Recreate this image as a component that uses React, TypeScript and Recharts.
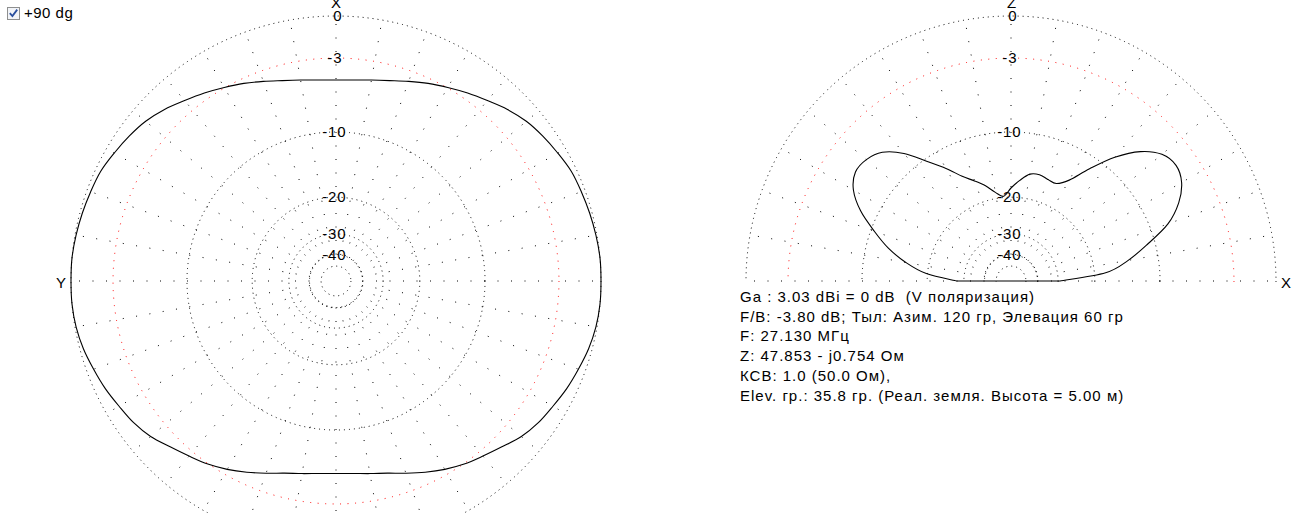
import React from 'react';
import { RadarChart, Radar, PolarGrid, PolarAngleAxis, PolarRadiusAxis } from 'recharts';

const FONT = '"Liberation Sans", Arial, sans-serif';
const OUTER = 265;
const CY = 281;

// Azimuth pattern (degrees clockwise from X / top), dB
const AZ_ANGLES = [
  0, 5, 10, 15, 20, 25, 30, 35, 40, 45, 50, 55, 60, 65, 70, 75, 80, 85,
  90, 95, 100, 105, 110, 115, 120, 125, 130, 135, 140, 145, 150, 155, 160, 165, 170, 175,
  180, 185, 190, 195, 200, 205, 210, 215, 220, 225, 230, 235, 240, 245, 250, 255, 260, 265,
  270, 275, 280, 285, 290, 295, 300, 305, 310, 315, 320, 325, 330, 335, 340, 345, 350, 355,
];
const AZ_DB = [
  -4.8, -4.73, -4.54, -4.25, -3.84, -3.39, -2.96, -2.5, -2.05, -1.54, -1.12, -0.84, -0.6, -0.36, -0.26, -0.16, -0.07, 0,
  0, 0, -0.07, -0.23, -0.47, -0.7, -0.98, -1.22, -1.58, -2.12, -2.57, -2.96, -3.43, -3.96, -4.5, -4.98, -5.28, -5.49,
  -5.55, -5.49, -5.28, -4.98, -4.5, -3.96, -3.43, -2.96, -2.57, -2.12, -1.58, -1.22, -0.98, -0.7, -0.47, -0.23, -0.07, 0,
  0, 0, -0.07, -0.16, -0.26, -0.36, -0.6, -0.84, -1.12, -1.54, -2.05, -2.5, -2.96, -3.39, -3.84, -4.25, -4.54, -4.73,
];

// Elevation pattern (degrees from +X horizon, counter-clockwise), dB
const EL_ANGLES = [
  0, 5, 10, 15, 20, 25, 30, 35, 40, 45, 50, 55, 60, 65, 70, 75, 80, 85, 90,
  95, 100, 105, 110, 115, 120, 125, 130, 135, 140, 145, 150, 155, 160, 165, 170, 175, 180,
];
const EL_DB = [
  -29.32, -17.82, -13.91, -10.96, -8.02, -6.24, -5.15, -4.76, -5.15, -6.43, -8.6, -11.46, -14.28, -15.67, -15.59, -15.27, -15.51, -16.76, -18.19,
  -19.75, -18.76, -17.19, -15.84, -14.43, -12.37, -10.36, -8.07, -6.53, -5.89, -5.79, -6.53, -8.13, -10.42, -12.78, -15.79, -19.75, -27.63,
];

const RING_DB_BLACK = [0, -10, -20, -30, -40, -50];
const RING_DB_RED = [-3];
const RING_LABEL_DB = [0, -3, -10, -20, -30, -40];
const SPOKE_START_DB = -40;
const AZ_SPOKES = [0, 10, 20, 30, 40, 50, 60, 70, 80, 90, 100, 110, 120, 130, 140, 150, 160, 170,
  180, 190, 200, 210, 220, 230, 240, 250, 260, 270, 280, 290, 300, 310, 320, 330, 340, 350];
const EL_SPOKES = [0, 10, 20, 30, 40, 50, 60, 70, 80, 90, 100, 110, 120, 130, 140, 150, 160, 170, 180];

const INFO_LINES = [
  'Ga : 3.03 dBi = 0 dB  (V поляризация)',
  'F/B: -3.80 dB; Тыл: Азим. 120 гр, Элевация 60 гр',
  'F: 27.130 МГц',
  'Z: 47.853 - j0.754 Ом',
  'КСВ: 1.0 (50.0 Ом),',
  'Elev. гр.: 35.8 гр. (Реал. земля. Высота = 5.00 м)',
];

const toV = (db: number) => Math.pow(10, db / 40);

const azData = AZ_ANGLES.map((a, i) => ({ angle: a, v: toV(AZ_DB[i]) }));
const elData = EL_ANGLES.map((a, i) => ({ angle: a, v: toV(EL_DB[i]) }));

type P = { x: number; y: number };
function smoothPath(pts: P[], closed: boolean) {
  const n = pts.length;
  const get = (i: number) => (closed ? pts[(i + n) % n] : pts[Math.max(0, Math.min(n - 1, i))]);
  let d = `M${pts[0].x},${pts[0].y}`;
  const segs = closed ? n : n - 1;
  for (let i = 0; i < segs; i++) {
    const p0 = get(i - 1), p1 = get(i), p2 = get(i + 1), p3 = get(i + 2);
    const c1x = p1.x + (p2.x - p0.x) / 6, c1y = p1.y + (p2.y - p0.y) / 6;
    const c2x = p2.x - (p3.x - p1.x) / 6, c2y = p2.y - (p3.y - p1.y) / 6;
    d += ` C${c1x},${c1y} ${c2x},${c2y} ${p2.x},${p2.y}`;
  }
  return d + ' Z';
}

const makeShape = (closed: boolean) => (props: any) => {
  const pts: P[] = (props.points || []).filter((p: any) => Number.isFinite(p.x) && Number.isFinite(p.y));
  if (pts.length < 2) return <g />;
  return <path d={smoothPath(pts, closed)} fill="none" stroke="#000" strokeWidth={1.1} />;
};

const RingTick = (props: any) => {
  const { x, y, payload } = props;
  const db = Math.round(40 * Math.log10(payload.value));
  const digits = String(Math.abs(db));
  const label = db === 0 ? '0' : `-${digits}`;
  const xEnd = x + (digits.length === 1 ? 6.3 : 10.3);
  return (
    <text x={xEnd} y={y + 5} textAnchor="end" fontSize={15} fontFamily={FONT} fill="#000" letterSpacing={0.8}>
      {label}
    </text>
  );
};

type PlotProps = {
  data: any[]; width: number; height: number; cx: number; startAngle: number; endAngle: number;
  domain: [number, number]; spokes: number[]; closed: boolean;
};

// Grid layer: rings + spokes (spokes start at the -40 dB ring)
function GridLayer(props: PlotProps) {
  const { data, width, height, cx, startAngle, endAngle, domain, spokes } = props;
  return (
    <RadarChart width={width} height={height} data={data} cx={cx} cy={CY}
      innerRadius={OUTER * toV(SPOKE_START_DB)} outerRadius={OUTER}
      startAngle={startAngle} endAngle={endAngle} margin={{ top: 0, right: 0, bottom: 0, left: 0 }}>
      <PolarAngleAxis dataKey="angle" type="number" scale="linear" domain={domain}
        tick={false} axisLine={false} tickLine={false} />
      <PolarGrid gridType="circle" radialLines={false} polarAngles={[]}
        polarRadius={RING_DB_BLACK.map((d) => OUTER * toV(d))} stroke="#000" strokeDasharray="1 4" />
      <PolarGrid gridType="circle" radialLines={false} polarAngles={[]}
        polarRadius={RING_DB_RED.map((d) => OUTER * toV(d))} stroke="#ff0000" strokeDasharray="1 6.5" />
      <PolarGrid gridType="circle" radialLines={true} polarAngles={spokes} polarRadius={[]}
        stroke="#000" strokeDasharray="1 12.5" />
    </RadarChart>
  );
}

// Data layer: radius labels + pattern
function DataLayer(props: PlotProps) {
  const { data, width, height, cx, startAngle, endAngle, domain, closed } = props;
  return (
    <RadarChart width={width} height={height} data={data} cx={cx} cy={CY}
      innerRadius={0} outerRadius={OUTER}
      startAngle={startAngle} endAngle={endAngle} margin={{ top: 0, right: 0, bottom: 0, left: 0 }}>
      <PolarAngleAxis dataKey="angle" type="number" scale="linear" domain={domain}
        tick={false} axisLine={false} tickLine={false} />
      <PolarRadiusAxis angle={90} type="number" scale="linear" domain={[0, 1]}
        ticks={RING_LABEL_DB.map(toV)} tick={RingTick} axisLine={false} tickLine={false} />
      <Radar dataKey="v" stroke="#000" fill="none" isAnimationActive={false} dot={false}
        shape={makeShape(closed)} />
    </RadarChart>
  );
}

function PolarPlot(props: PlotProps) {
  return (
    <div style={{ position: 'relative', width: props.width, height: props.height }}>
      <div style={{ position: 'absolute', left: 0, top: 0 }}>
        <GridLayer {...props} />
      </div>
      <div style={{ position: 'absolute', left: 0, top: 0 }}>
        <DataLayer {...props} />
      </div>
    </div>
  );
}

export default function App() {
  return (
    <div style={{ position: 'absolute', left: 0, top: 0, width: 1310, height: 513, overflow: 'hidden', background: '#fff' }}>
      <div style={{ position: 'absolute', left: 0, top: 0, width: 672, height: 562 }}>
        <PolarPlot data={azData} width={672} height={562} cx={336} startAngle={90} endAngle={-270}
          domain={[0, 360]} spokes={AZ_SPOKES} closed={true} />
      </div>
      <div style={{ position: 'absolute', left: 690, top: 0, width: 620, height: 282, overflow: 'hidden' }}>
        <PolarPlot data={elData} width={620} height={562} cx={321} startAngle={0} endAngle={180}
          domain={[0, 180]} spokes={EL_SPOKES} closed={false} />
      </div>
      <svg width={1310} height={513} style={{ position: 'absolute', left: 0, top: 0 }}>
        <rect x={7.5} y={7.5} width={12} height={12} fill="#f2f4f8" stroke="#8e8f8f" />
        <path d="M9.8 13.2 L12.4 16 L17.2 9.6" fill="none" stroke="#2a4f9e" strokeWidth={1.8} />
        <text x={24} y={18} fontSize={15} fontFamily={FONT} fill="#000" letterSpacing={0.5}>+90 dg</text>
        <text x={336} y={8} textAnchor="middle" fontSize={15} fontFamily={FONT} fill="#000">X</text>
        <text x={61} y={288} textAnchor="middle" fontSize={15} fontFamily={FONT} fill="#000">Y</text>
        <text x={1011.5} y={8} textAnchor="middle" fontSize={15} fontFamily={FONT} fill="#000">Z</text>
        <text x={1286} y={288} textAnchor="middle" fontSize={15} fontFamily={FONT} fill="#000">X</text>
        {INFO_LINES.map((line, i) => (
          <text key={i} x={740} y={302 + i * 19.7} fontSize={15} fontFamily={FONT} fill="#000"
            letterSpacing={1} style={{ whiteSpace: 'pre' }}>
            {line}
          </text>
        ))}
      </svg>
    </div>
  );
}
